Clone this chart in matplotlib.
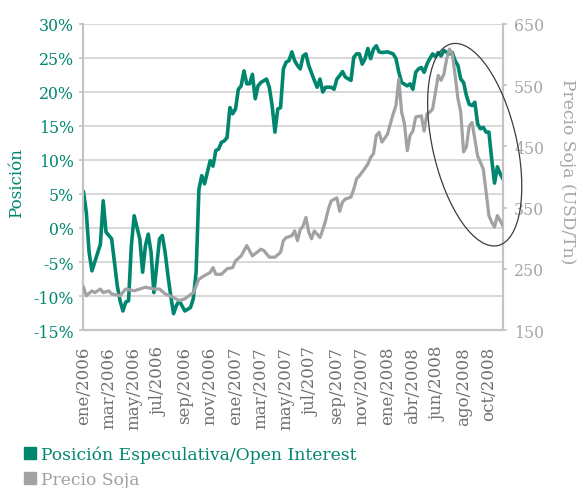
import matplotlib
matplotlib.use("Agg")
import matplotlib.pyplot as plt
from matplotlib.patches import Ellipse, Patch

plt.rcParams["font.family"] = "DejaVu Serif"

#### 00 data (semanas desde ene/2006)
semanas_pos = [0, 1, 2, 3, 4, 6, 7, 8, 9, 10, 11, 12, 13, 14, 15, 16, 17, 18, 20, 21,
               22, 23, 24, 25, 26, 27, 28, 29, 30, 31, 32, 33, 34, 36, 38, 39, 40, 41, 42, 43,
               44, 45, 46, 47, 48, 49, 50, 51, 52, 53, 54, 55, 56, 57, 58, 59, 60, 61, 62, 63,
               65, 66, 67, 68, 69, 70, 71, 72, 73, 74, 75, 76, 77, 78, 79, 80, 82, 83, 84, 85,
               86, 88, 89, 90, 91, 92, 93, 95, 96, 97, 98, 99, 100, 101, 102, 103, 104, 105, 106, 108,
               110, 111, 112, 113, 115, 116, 117, 118, 119, 120, 121, 122, 123, 124, 125, 126, 127, 128, 130, 131,
               132, 133, 134, 135, 136, 137, 138, 139, 140, 141, 142, 143, 144, 145, 146, 147, 148, 149]
posicion = [5.3, 2.3, -3.6, -6.3, -5.0, -2.4, 4.0, -0.6, -1.1, -1.6, -5.0, -8.5, -10.7, -12.2, -10.9, -10.7, -2.6, 1.8, -1.6, -6.5,
            -2.6, -0.9, -3.6, -9.5, -5.5, -1.6, -1.1, -3.6, -7.0, -10.0, -12.6, -11.4, -10.7, -12.2, -11.7, -10.4, -6.5, 5.7, 7.7, 6.5,
            8.2, 9.9, 9.1, 11.4, 11.6, 12.6, 12.8, 13.3, 17.7, 16.8, 17.5, 20.4, 20.9, 23.1, 21.2, 21.2, 22.6, 19.0, 20.9, 21.4,
            21.9, 20.7, 18.0, 14.1, 17.5, 17.7, 23.4, 24.4, 24.6, 25.9, 24.6, 23.9, 23.4, 25.3, 25.6, 23.9, 21.7, 20.7, 21.9, 20.0,
            20.7, 20.7, 20.4, 21.9, 22.4, 23.0, 22.2, 21.7, 25.1, 25.6, 25.6, 24.1, 24.9, 26.4, 24.9, 26.3, 26.8, 25.9, 25.8, 25.9,
            25.6, 24.9, 22.9, 21.4, 20.9, 21.2, 20.4, 22.9, 23.4, 23.6, 22.9, 24.1, 24.9, 25.6, 25.2, 25.8, 25.3, 26.1, 25.6, 25.8,
            24.6, 23.9, 21.9, 21.4, 19.5, 18.2, 18.0, 18.5, 15.3, 14.6, 14.8, 14.1, 14.1, 10.1, 6.6, 9.0, 8.0, 7.2]

semanas_precio = [0, 1, 3, 4, 6, 7, 9, 10, 13, 15, 18, 20, 22, 25, 27, 29, 32, 34, 36, 39,
                  41, 43, 45, 46, 47, 49, 51, 53, 54, 56, 58, 60, 63, 64, 66, 68, 70, 71, 72, 74,
                  75, 76, 77, 78, 79, 80, 81, 82, 84, 85, 86, 87, 88, 90, 91, 92, 93, 95, 96, 97,
                  98, 99, 101, 102, 103, 104, 105, 106, 108, 109, 110, 111, 112, 113, 114, 115, 116, 117, 118, 120,
                  121, 122, 123, 124, 125, 126, 127, 128, 129, 130, 131, 132, 133, 134, 135, 136, 137, 138, 139, 140,
                  141, 142, 143, 144, 145, 146, 147, 148, 149]
precio = [220, 206, 214, 211, 217, 211, 214, 209, 206, 217, 214, 217, 220, 217, 217, 209, 203, 198, 201, 211,
          233, 239, 244, 252, 241, 241, 250, 252, 263, 271, 288, 271, 282, 280, 269, 269, 277, 296, 301, 304,
          312, 296, 314, 320, 334, 310, 299, 312, 301, 314, 329, 348, 361, 366, 344, 359, 364, 367, 380, 397,
          402, 408, 421, 432, 438, 468, 473, 457, 470, 487, 503, 517, 560, 506, 487, 443, 468, 475, 498, 500,
          475, 503, 506, 511, 538, 566, 558, 568, 593, 609, 601, 566, 528, 506, 441, 449, 483, 489, 462, 434,
          424, 413, 376, 337, 326, 318, 337, 329, 320]

meses = ["ene/2006", "mar/2006", "may/2006", "jul/2006", "sep/2006", "nov/2006",
         "ene/2007", "mar/2007", "may/2007", "jul/2007", "sep/2007", "nov/2007",
         "ene/2008", "abr/2008", "jun/2008", "ago/2008", "oct/2008"]

verde = "#00866e"
gris = "#a2a2a5"

#### 01 plot
fig = plt.figure(figsize=(5.79, 4.89), dpi=100)
ax = fig.add_axes([0.1442, 0.3231, 0.7245, 0.6258])
ax2 = ax.twinx()

ax.plot(semanas_pos, posicion, color=verde, lw=2.6, solid_joinstyle="round", zorder=3)
ax2.plot(semanas_precio, precio, color=gris, lw=2.3, solid_joinstyle="round", zorder=3)

ax.set_xlim(0, 149)
ax.set_ylim(-15, 30)
ax2.set_ylim(150, 650)

# ejes y grilla
ax.set_yticks(range(-15, 31, 5))
ax.set_yticklabels([f"{v}%" for v in range(-15, 31, 5)])
ax2.set_yticks(range(150, 651, 100))
ax.set_xticks(range(0, 145, 9))
ax.set_xticklabels(meses, rotation=90, va="top")
ax.grid(axis="y", color="#d6d6d6", lw=1.3)
ax.set_axisbelow(True)

for a in (ax, ax2):
    for s in a.spines.values():
        s.set_color("#c4c4c4")
        s.set_linewidth(1.5)
    a.spines["top"].set_visible(False)

ax.tick_params(axis="y", colors="#c4c4c4", labelcolor=verde, labelsize=11.3, length=3, width=1.2, pad=4)
ax2.tick_params(axis="y", colors="#c4c4c4", labelcolor="#a6a6a6", labelsize=11.3, length=3, width=1.2, pad=5)
ax.tick_params(axis="x", length=0, labelsize=12, labelcolor="#707070", pad=11.5)

ax.set_ylabel("Posición", color=verde, fontsize=12)
ax.yaxis.set_label_coords(-0.1395, 0.484)
ax2.set_ylabel("Precio Soja (USD/Tn)", color="#a6a6a6", fontsize=12.3, rotation=-90, va="bottom")
ax2.yaxis.set_label_coords(1.134, 0.521)

# elipse que marca la caída de 2008
elipse = Ellipse((4.747, 3.433), 0.84, 2.07, angle=13, transform=fig.dpi_scale_trans,
                 fill=False, edgecolor="#3c3c3c", lw=0.9)
fig.add_artist(elipse)

# leyenda
handles = [Patch(color=verde), Patch(color=gris)]
fig.legend(handles, ["Posición Especulativa/Open Interest", "Precio Soja"],
           loc="upper left", bbox_to_anchor=(0.042, 0.086), frameon=False,
           fontsize=12.3, handlelength=0.7, handleheight=0.7, handletextpad=0.25,
           labelspacing=0.45, borderpad=0, borderaxespad=0,
           labelcolor=[verde, "#a0a0a4"])

#### 02 save
fig.savefig("out.png", dpi=100)
